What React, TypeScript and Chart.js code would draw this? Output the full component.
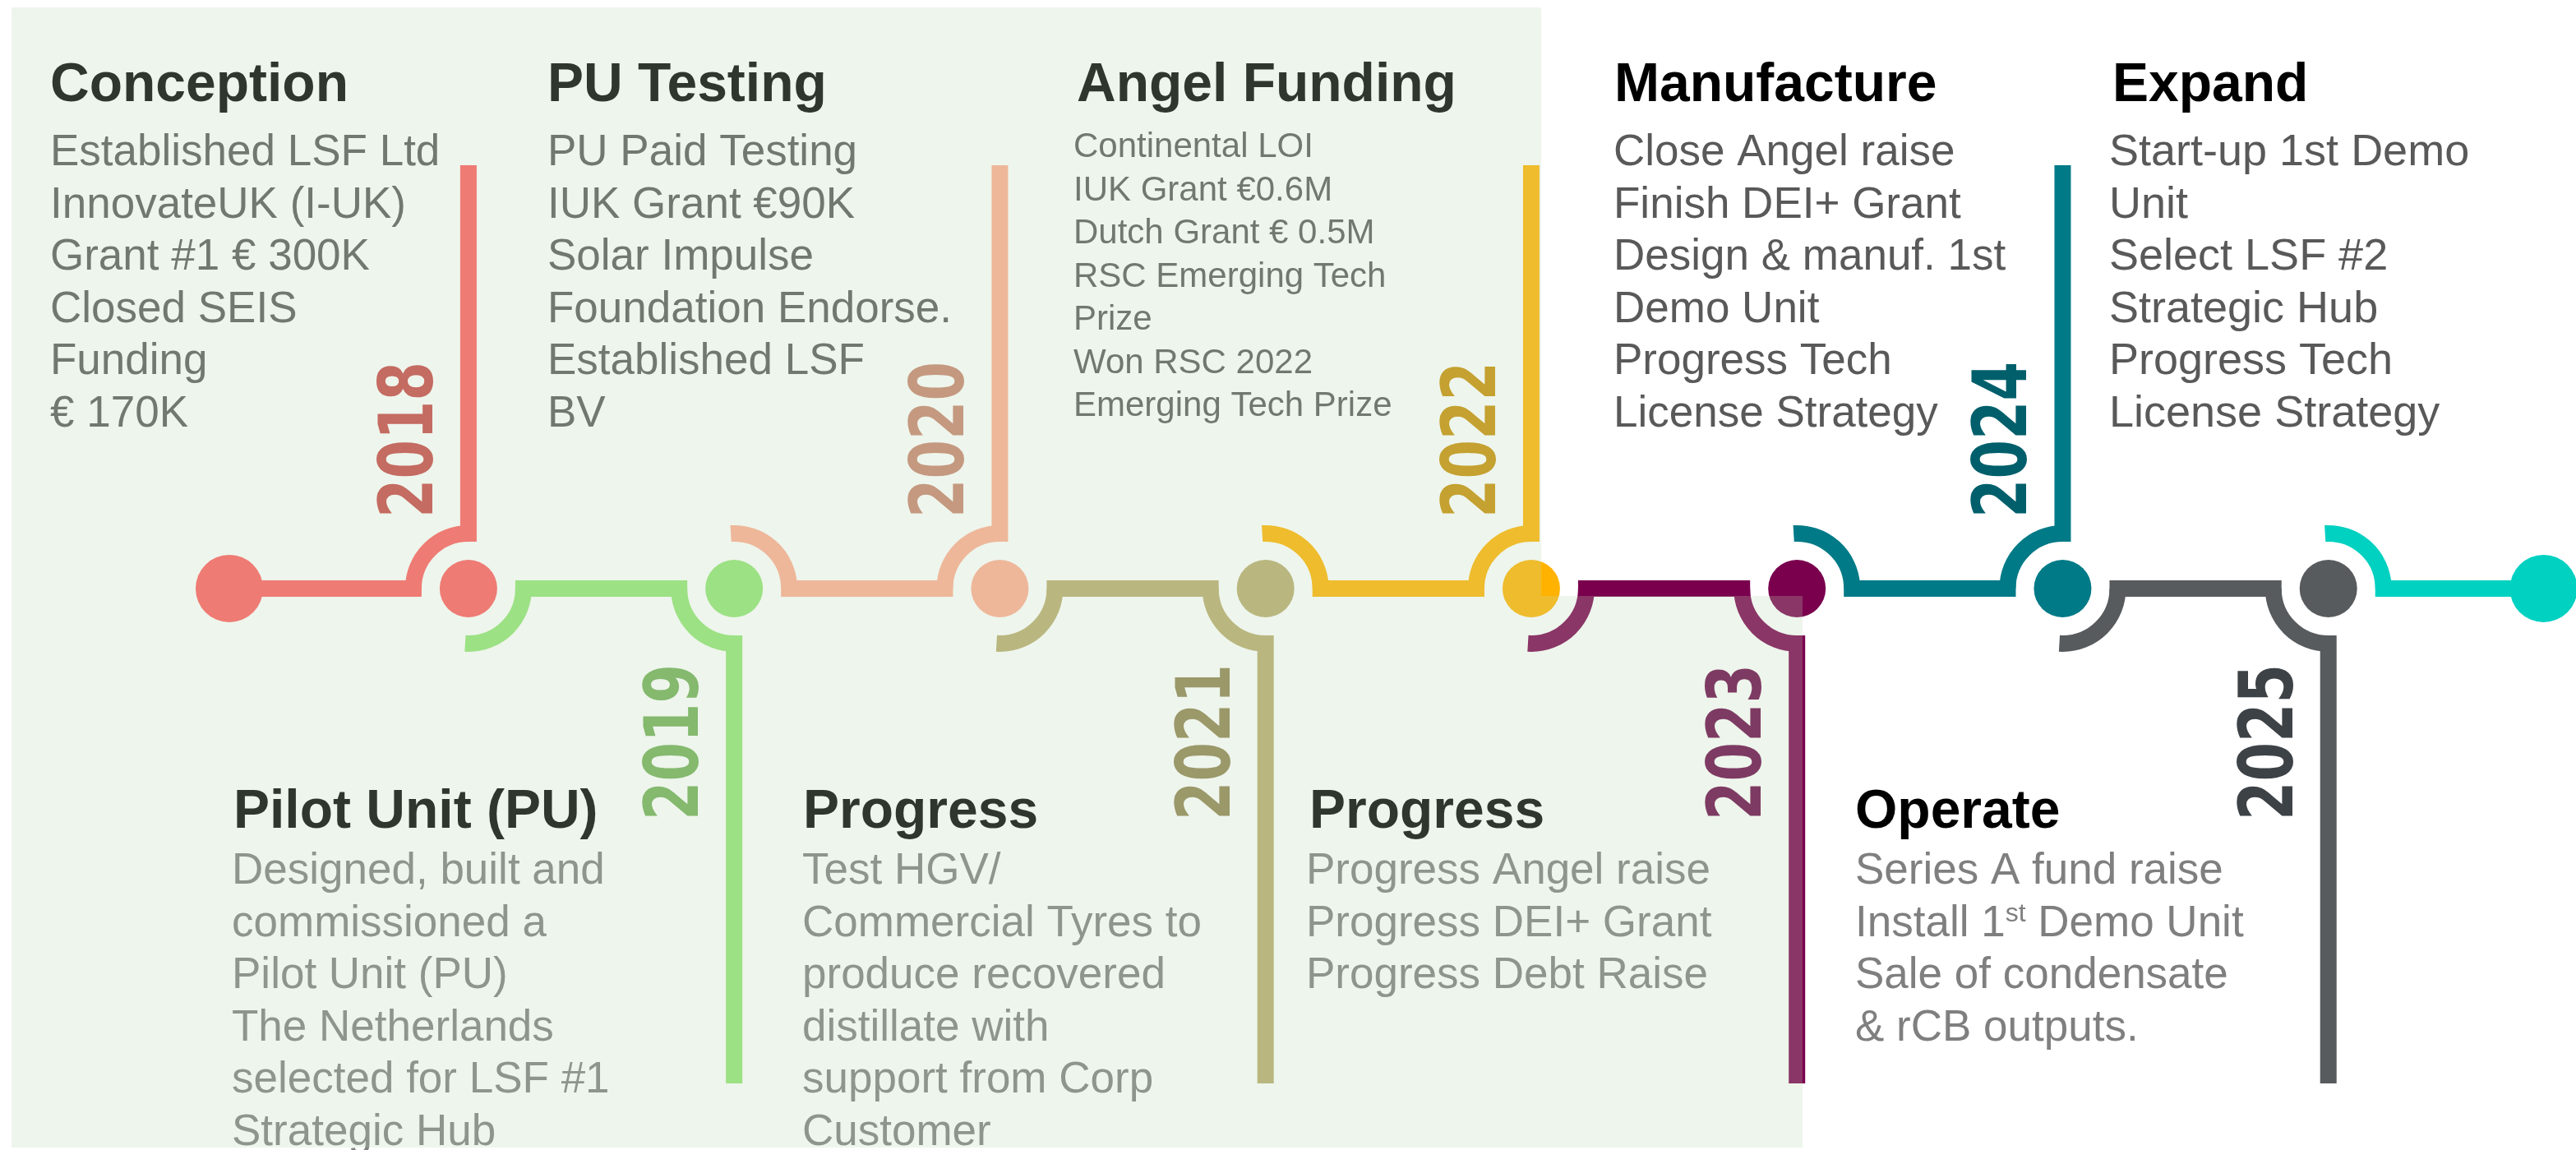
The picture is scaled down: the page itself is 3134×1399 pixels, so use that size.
import React, { useEffect, useRef } from "react";
import { Chart, registerables } from "chart.js";

Chart.register(...registerables);

// ---------------- data ----------------
const years = [2018, 2019, 2020, 2021, 2022, 2023, 2024, 2025];
const yearSide = ["up", "down", "up", "down", "up", "down", "up", "down"];
const startMarker = 2017.1;
const endMarker = 2025.81;

const lineColors = ["#FF5D5F", "#92E474", "#FFAC92", "#B8AC6E", "#FFB300", "#7A004E", "#007A87", "#575B5E"];
const endColor = "#00D1C1";
const yearColors = ["#C74747", "#72AF57", "#C7846F", "#908352", "#C78F04", "#680748", "#005F6B", "#3D4247"];

const topTitles = ["Conception", "PU Testing", "Angel Funding", "Manufacture", "Expand"];
const conceptionLines = ["Established LSF Ltd", "InnovateUK (I-UK)", "Grant #1 € 300K", "Closed SEIS", "Funding", "€ 170K"];
const puTestingLines = ["PU Paid Testing", "IUK Grant €90K", "Solar Impulse", "Foundation Endorse.", "Established LSF", "BV"];
const angelLines = ["Continental LOI", "IUK Grant €0.6M", "Dutch Grant € 0.5M", "RSC Emerging Tech", "Prize", "Won RSC 2022", "Emerging Tech Prize"];
const manufactureLines = ["Close Angel raise", "Finish DEI+ Grant", "Design & manuf. 1st", "Demo Unit", "Progress Tech", "License Strategy"];
const expandLines = ["Start-up 1st Demo", "Unit", "Select LSF #2", "Strategic Hub", "Progress Tech", "License Strategy"];

const bottomTitles = ["Pilot Unit (PU)", "Progress", "Progress", "Operate"];
const pilotLines = ["Designed, built and", "commissioned a", "Pilot Unit (PU)", "The Netherlands", "selected for LSF #1", "Strategic Hub"];
const progress2021Lines = ["Test HGV/", "Commercial Tyres to", "produce recovered", "distillate with", "support from Corp", "Customer"];
const progress2023Lines = ["Progress Angel raise", "Progress DEI+ Grant", "Progress Debt Raise"];
const operateLines = ["Series A fund raise", "Install 1{st} Demo Unit", "Sale of condensate", "& rCB outputs."];

const topBodies = [conceptionLines, puTestingLines, angelLines, manufactureLines, expandLines];
const bottomBodies = [pilotLines, progress2021Lines, progress2023Lines, operateLines];

// ---------------- layout / style ----------------
const TOP_TITLE_X = [61, 666, 1310, 1964, 2570];
const TOP_BODY_X = [61, 666, 1306, 1963, 2566];
const TOP_BODY_SIZE = [53, 53, 42, 53, 54];
const TOP_BODY_SPACING = [63.5, 63.5, 52.5, 63.5, 63.5];
const TOP_BODY_BASE = [201, 201, 191, 201, 201];
const BOTTOM_TITLE_X = [284, 977, 1593, 2257];
const BOTTOM_BODY_X = [282, 976, 1589, 2257];
const BOTTOM_BODY_COLOR = "#7F7F7F";
const TOP_BODY_COLOR = "#595959";

const R = 67;
const LW = 20;
const INNER = R - LW / 2;
const BAR_TOP = 201;
const BAR_BOTTOM = 1318;
const FONT = "'Liberation Sans', Arial, sans-serif";

function drawRich(ctx: CanvasRenderingContext2D, text: string, x: number, y: number, size: number) {
  const parts = text.split(/(\{[^}]*\})/);
  let cx = x;
  for (const p of parts) {
    if (!p) continue;
    if (p.startsWith("{")) {
      const t = p.slice(1, -1);
      ctx.font = `${Math.round(size * 0.6)}px ${FONT}`;
      ctx.fillText(t, cx, y - size * 0.33);
      cx += ctx.measureText(t).width;
    } else {
      ctx.font = `${size}px ${FONT}`;
      ctx.fillText(p, cx, y);
      cx += ctx.measureText(p).width;
    }
  }
}

const timelinePlugin = {
  id: "timeline",
  beforeDatasetsDraw(chart: any) {
    const { ctx, scales } = chart;
    const xs = scales.x;
    const y0 = scales.y.getPixelForValue(0);
    const px = years.map((v) => xs.getPixelForValue(v));
    const sx = xs.getPixelForValue(startMarker);
    const ex = xs.getPixelForValue(endMarker);
    ctx.save();
    ctx.lineWidth = LW;
    ctx.lineCap = "butt";
    const arc = (cx: number, a0: number, a1: number, color: string) => {
      ctx.strokeStyle = color;
      ctx.beginPath();
      ctx.arc(cx, y0, R, a0, a1);
      ctx.stroke();
    };
    const ext = 0.06;
    for (let k = 0; k <= years.length; k++) {
      const color = k < years.length ? lineColors[k] : endColor;
      let x0: number;
      if (k === 0) x0 = sx;
      else {
        if (yearSide[k - 1] === "up") arc(px[k - 1], 0, Math.PI / 2 + ext, color);
        else arc(px[k - 1], -Math.PI / 2 - ext, 0, color);
        x0 = px[k - 1] + INNER;
      }
      const x1 = k < years.length ? px[k] - INNER : ex;
      ctx.fillStyle = color;
      ctx.fillRect(x0, y0 - LW / 2, x1 - x0, LW);
      if (k < years.length) {
        if (yearSide[k] === "up") {
          arc(px[k], Math.PI, Math.PI * 1.5, color);
          ctx.fillStyle = color;
          ctx.fillRect(px[k] - LW / 2, BAR_TOP, LW, y0 - INNER - BAR_TOP);
        } else {
          arc(px[k], Math.PI / 2, Math.PI, color);
          ctx.fillStyle = color;
          ctx.fillRect(px[k] - LW / 2, y0 + INNER, LW, BAR_BOTTOM - y0 - INNER);
        }
      }
    }
    ctx.restore();
  },
  afterDatasetsDraw(chart: any) {
    const { ctx, scales } = chart;
    const xs = scales.x;
    const px = years.map((v) => xs.getPixelForValue(v));
    ctx.save();
    ctx.textAlign = "left";
    ctx.textBaseline = "alphabetic";
    // top blocks
    topTitles.forEach((t, i) => {
      ctx.fillStyle = "#000000";
      ctx.font = `bold 66px ${FONT}`;
      ctx.fillText(t, TOP_TITLE_X[i], 123);
      ctx.fillStyle = TOP_BODY_COLOR;
      topBodies[i].forEach((line, j) => {
        drawRich(ctx, line, TOP_BODY_X[i], TOP_BODY_BASE[i] + j * TOP_BODY_SPACING[i], TOP_BODY_SIZE[i]);
      });
    });
    // bottom blocks
    bottomTitles.forEach((t, i) => {
      ctx.fillStyle = "#000000";
      ctx.font = `bold 66px ${FONT}`;
      ctx.fillText(t, BOTTOM_TITLE_X[i], 1007);
      ctx.fillStyle = BOTTOM_BODY_COLOR;
      bottomBodies[i].forEach((line, j) => {
        drawRich(ctx, line, BOTTOM_BODY_X[i], 1075 + j * 63.5, 53);
      });
    });
    // year labels
    years.forEach((yr, k) => {
      ctx.save();
      ctx.translate(px[k] - 44, yearSide[k] === "up" ? 630 : 998);
      ctx.rotate(-Math.PI / 2);
      ctx.font = "bold 90px 'DejaVu Sans', sans-serif";
      ctx.fillStyle = yearColors[k];
      ctx.fillText(String(yr), 0, 0, 190);
      ctx.restore();
    });
    // translucent green panel over the early years
    ctx.fillStyle = "rgba(187,216,179,0.25)";
    ctx.beginPath();
    ctx.moveTo(14, 9);
    ctx.lineTo(1875, 9);
    ctx.lineTo(1875, 725);
    ctx.lineTo(2193, 725);
    ctx.lineTo(2193, 1396);
    ctx.lineTo(14, 1396);
    ctx.closePath();
    ctx.fill();
    ctx.restore();
  },
};

export default function App() {
  const canvasRef = useRef<HTMLCanvasElement | null>(null);
  useEffect(() => {
    const canvas = canvasRef.current;
    if (!canvas) return;
    const points = [
      { x: startMarker, y: 0 },
      ...years.map((v) => ({ x: v, y: 0 })),
      { x: endMarker, y: 0 },
    ];
    const radii = [41, ...years.map(() => 35), 41];
    const fills = [lineColors[0], ...lineColors, endColor];
    const chart = new Chart(canvas, {
      type: "scatter",
      data: {
        datasets: [
          {
            data: points,
            pointRadius: radii,
            pointHoverRadius: radii,
            pointBackgroundColor: fills,
            pointBorderWidth: 0,
            pointHoverBorderWidth: 0,
            showLine: false,
            clip: false,
          } as any,
        ],
      },
      options: {
        animation: false,
        responsive: true,
        maintainAspectRatio: false,
        devicePixelRatio: 1,
        events: [],
        layout: { padding: 0, autoPadding: false },
        plugins: { legend: { display: false }, tooltip: { enabled: false } },
        scales: {
          x: { type: "linear", min: 2016.237, max: 2025.932, display: false },
          y: { type: "linear", min: -1, max: 0.954, reverse: true, display: false },
        },
      } as any,
      plugins: [timelinePlugin as any],
    });
    return () => chart.destroy();
  }, []);
  return (
    <div style={{ position: "fixed", left: 0, top: 0, width: 3134, height: 1399, background: "#ffffff" }}>
      <canvas ref={canvasRef} />
    </div>
  );
}
